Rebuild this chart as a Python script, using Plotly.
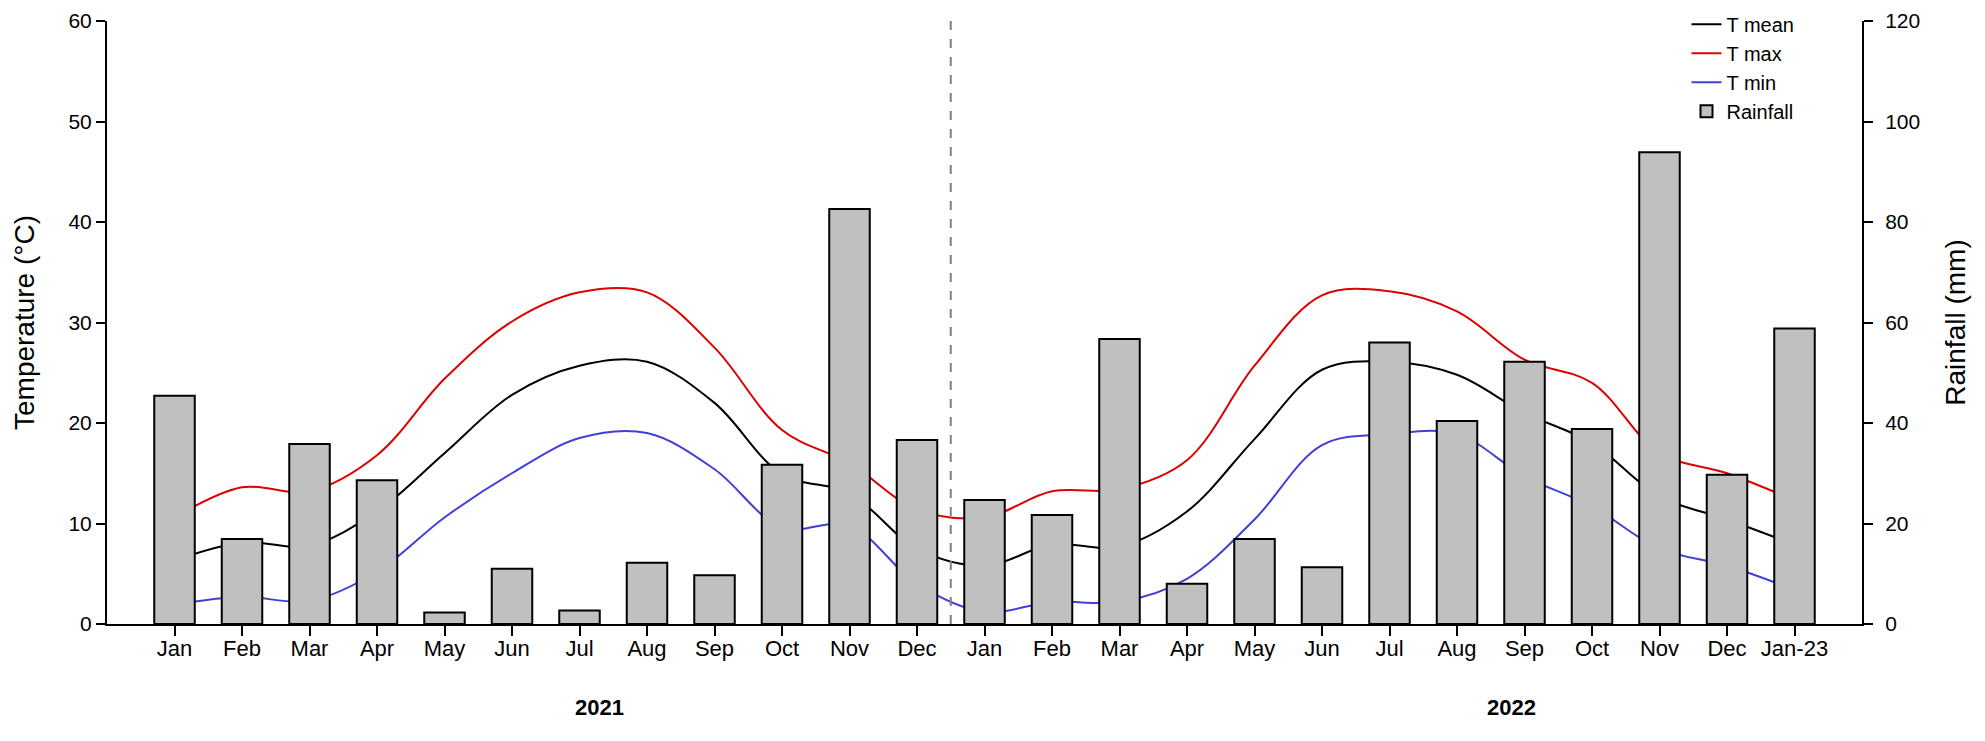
import plotly.graph_objects as go

# month labels, Jan 2021 .. Jan 2023
months_2021 = ["Jan", "Feb", "Mar", "Apr", "May", "Jun", "Jul", "Aug", "Sep", "Oct", "Nov", "Dec"]
months_2022 = ["Jan", "Feb", "Mar", "Apr", "May", "Jun", "Jul", "Aug", "Sep", "Oct", "Nov", "Dec"]
months = months_2021 + months_2022 + ["Jan-23"]

# monthly rainfall (mm)
rainfall = [45.4, 16.9, 35.8, 28.6, 2.3, 11.0, 2.7, 12.2, 9.7, 31.7, 82.6, 36.6,
            24.7, 21.7, 56.7, 8.0, 16.9, 11.3, 56.0, 40.4, 52.2, 38.8, 93.9, 29.7,
            58.8]

# temperatures (deg C)
t_mean = [6.3, 8.1, 7.8, 11.2, 17.0, 22.8, 25.7, 26.1, 22.0, 14.9, 13.0, 7.5,
          5.8, 7.9, 7.7, 11.2, 18.4, 25.3, 26.1, 24.8, 21.0, 18.0, 12.7, 10.4,
          7.9]
t_max = [10.6, 13.6, 13.2, 16.8, 24.4, 30.1, 33.0, 33.0, 27.5, 19.3, 16.0, 11.4,
         10.6, 13.2, 13.4, 16.3, 25.7, 32.7, 33.1, 31.1, 26.3, 24.0, 17.0, 15.0,
         12.3]
t_min = [1.9, 2.7, 2.3, 5.2, 10.6, 15.0, 18.5, 19.0, 15.4, 9.6, 9.8, 4.0,
         1.2, 2.2, 2.2, 4.5, 10.4, 17.8, 18.9, 18.9, 14.7, 11.7, 7.5, 5.8,
         3.4]

year_labels = ["2021", "2022"]

x = list(range(len(months)))

fig = go.Figure()

for name, vals, col in [("T mean", t_mean, "black"),
                        ("T max", t_max, "#dd0000"),
                        ("T min", t_min, "#4040d8")]:
    fig.add_trace(go.Scatter(
        x=x, y=vals, mode="lines", name=name,
        line=dict(color=col, width=2, shape="spline", smoothing=1.0),
    ))

fig.add_trace(go.Bar(
    x=x, y=rainfall, name="Rainfall", yaxis="y2",
    marker=dict(color="#c0c0c0", line=dict(color="black", width=2)),
))

axis_style = dict(
    showline=True, linecolor="black", linewidth=2,
    ticks="outside", tickcolor="black", tickwidth=2,
    showgrid=False, zeroline=False,
    ticklabeloverflow="allow", automargin=False,
)

# page body has an 8px margin, so the figure is 8px smaller than the window
fig.update_layout(
    width=1977, height=733,
    margin=dict(l=99, r=123, t=13, b=117, autoexpand=False),
    paper_bgcolor="white", plot_bgcolor="white",
    font=dict(family="Liberation Sans, Arial, sans-serif", size=21, color="black"),
    bargap=0.4,
    showlegend=True,
    legend=dict(x=0.9, y=1.027, xanchor="left", yanchor="top",
                bgcolor="rgba(0,0,0,0)", font=dict(size=20),
                tracegroupgap=0),
    xaxis=dict(range=[-1, len(months)], tickmode="array", tickvals=x,
               ticktext=months, ticklen=10, tickfont=dict(size=22),
               ticklabelstandoff=-6, **axis_style),
    yaxis=dict(range=[0, 60], dtick=10, ticklen=9,
               title=dict(text="Temperature (°C)", font=dict(size=28), standoff=26),
               **axis_style),
    yaxis2=dict(range=[0, 120], dtick=20, ticklen=9, overlaying="y", side="right",
                ticklabelstandoff=8,
                title=dict(text="Rainfall (mm)", font=dict(size=28), standoff=26),
                **axis_style),
)

# dashed separator between the two years
split = len(months_2021) - 0.5
fig.add_shape(type="line", xref="x", yref="y", x0=split, x1=split, y0=0, y1=60,
              line=dict(color="#808080", width=2, dash="dash"))

for lab, xpos in zip(year_labels, [6.3, 19.8]):
    fig.add_annotation(text="<b>" + lab + "</b>", x=xpos, xref="x",
                       y=-0.138, yref="paper", showarrow=False,
                       font=dict(size=22), yanchor="middle")

fig.write_html("out.html")
